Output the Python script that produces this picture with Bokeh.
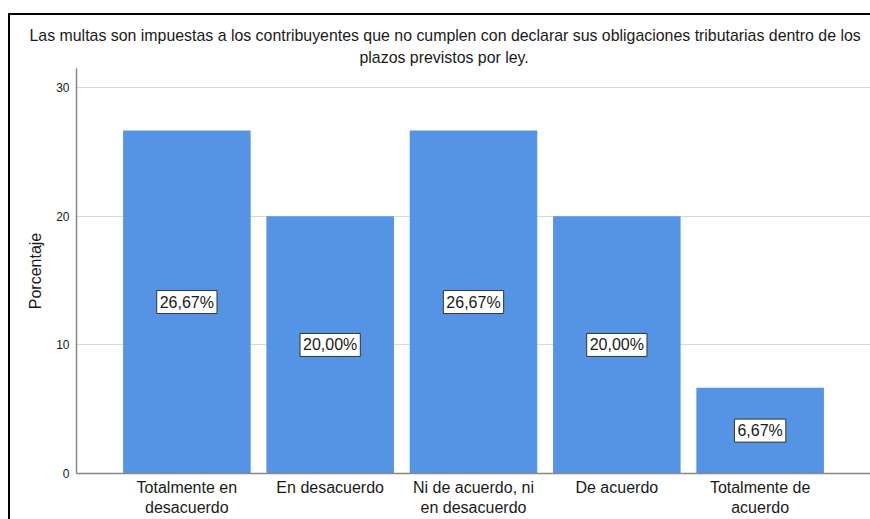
from bokeh.plotting import figure
from bokeh.models import (ColumnDataSource, Label, Title, Range1d, FactorRange, Spacer,
                          CategoricalAxis, CustomJSTickFormatter)
from bokeh.layouts import row, column
from bokeh.embed import file_html
from bokeh.resources import INLINE

categories = ["Totalmente en desacuerdo", "En desacuerdo", "Ni de acuerdo, ni en desacuerdo",
              "De acuerdo", "Totalmente de acuerdo"]
tick_line1 = ["Totalmente en", "En desacuerdo", "Ni de acuerdo, ni", "De acuerdo", "Totalmente de"]
tick_line2 = ["desacuerdo", "", "en desacuerdo", "", "acuerdo"]
percent = [26.67, 20.00, 26.67, 20.00, 6.67]
bar_labels = ["26,67%", "20,00%", "26,67%", "20,00%", "6,67%"]
y_ticks = [0, 10, 20, 30]
title_lines = ["Las multas son impuestas a los contribuyentes que no cumplen con declarar sus obligaciones tributarias dentro de los",
               "plazos previstos por ley."]

FONT = "Liberation Sans"
TXT = "#1a1a1a"
src = ColumnDataSource(dict(cat=categories, pct=percent))

p = figure(width=860, height=504, output_backend="svg", toolbar_location=None,
           x_range=FactorRange(*categories),
           y_range=Range1d(0, 31.5),
           min_border_left=66, min_border_right=0, min_border_top=53, min_border_bottom=46)
p.x_range.range_padding = 0.27 * 2 / 5
p.x_range.range_padding_units = "percent"

p.vbar(x="cat", top="pct", width=0.89, source=src, fill_color="#5594e4", line_color=None)

# label at the centre of each factor slot (factor i occupies synthetic coords [i, i+1])
for i, (v, t) in enumerate(zip(percent, bar_labels)):
    p.add_layout(Label(x=i + 0.5, y=v / 2, text=t, text_align="center", text_baseline="middle",
                       text_font=FONT, text_font_size="16px", text_color=TXT,
                       background_fill_color="white", border_line_color="#333333",
                       border_line_width=1, padding=3))

p.add_layout(Title(text=title_lines[1], align="left", offset=283, text_font=FONT,
                   text_font_size="15.9px", text_font_style="normal", text_color=TXT,
                   standoff=6), "above")
p.add_layout(Title(text=title_lines[0], align="left", offset=-47, text_font=FONT,
                   text_font_size="15.9px", text_font_style="normal", text_color=TXT,
                   standoff=0), "above")
p.title.visible = False

p.xgrid.grid_line_color = None
p.ygrid.grid_line_color = "#d9d9d9"
p.ygrid.ticker = y_ticks
p.yaxis.ticker = y_ticks
p.yaxis.axis_label = "Porcentaje"
p.yaxis.axis_label_text_font = FONT
p.yaxis.axis_label_text_font_size = "16px"
p.yaxis.axis_label_text_font_style = "normal"
p.yaxis.axis_label_text_color = TXT
p.yaxis.axis_label_standoff = 9
p.yaxis.major_label_text_font = FONT
p.yaxis.major_label_text_font_size = "12px"
p.yaxis.major_label_text_color = TXT
p.yaxis.major_tick_line_color = None
p.yaxis.major_tick_out = 0
p.yaxis.minor_tick_line_color = None
p.yaxis.major_label_standoff = 7
p.yaxis.axis_line_color = "#888888"
p.yaxis.axis_line_width = 1.5

LOOKUP = "const i = cats.indexOf(tick); return i >= 0 ? lines[i] : String(tick);"

xa = p.xaxis[0]
xa.formatter = CustomJSTickFormatter(args=dict(cats=categories, lines=tick_line1), code=LOOKUP)
xa.major_label_text_font = FONT
xa.major_label_text_font_size = "16px"
xa.major_label_text_color = TXT
xa.major_tick_line_color = None
xa.major_tick_out = 0
xa.major_label_standoff = 5
xa.axis_line_color = "#888888"
xa.axis_line_width = 1.5

xa2 = CategoricalAxis(formatter=CustomJSTickFormatter(args=dict(cats=categories, lines=tick_line2),
                                                      code=LOOKUP),
                      major_label_text_font=FONT, major_label_text_font_size="16px",
                      major_label_text_color=TXT, major_tick_line_color=None,
                      major_tick_out=0, major_tick_in=0, major_label_standoff=0,
                      axis_line_color=None)
p.add_layout(xa2, "below")

p.outline_line_color = None

left_bar = Spacer(width=2, height=506, styles={"background-color": "black"})
top_bar = Spacer(width=860, height=2, styles={"background-color": "black"})
layout = column(Spacer(width=870, height=13),
                row(Spacer(width=8, height=506), left_bar, column(top_bar, p, spacing=0), spacing=0),
                spacing=0)

open("out.html", "w").write(file_html(layout, INLINE))
